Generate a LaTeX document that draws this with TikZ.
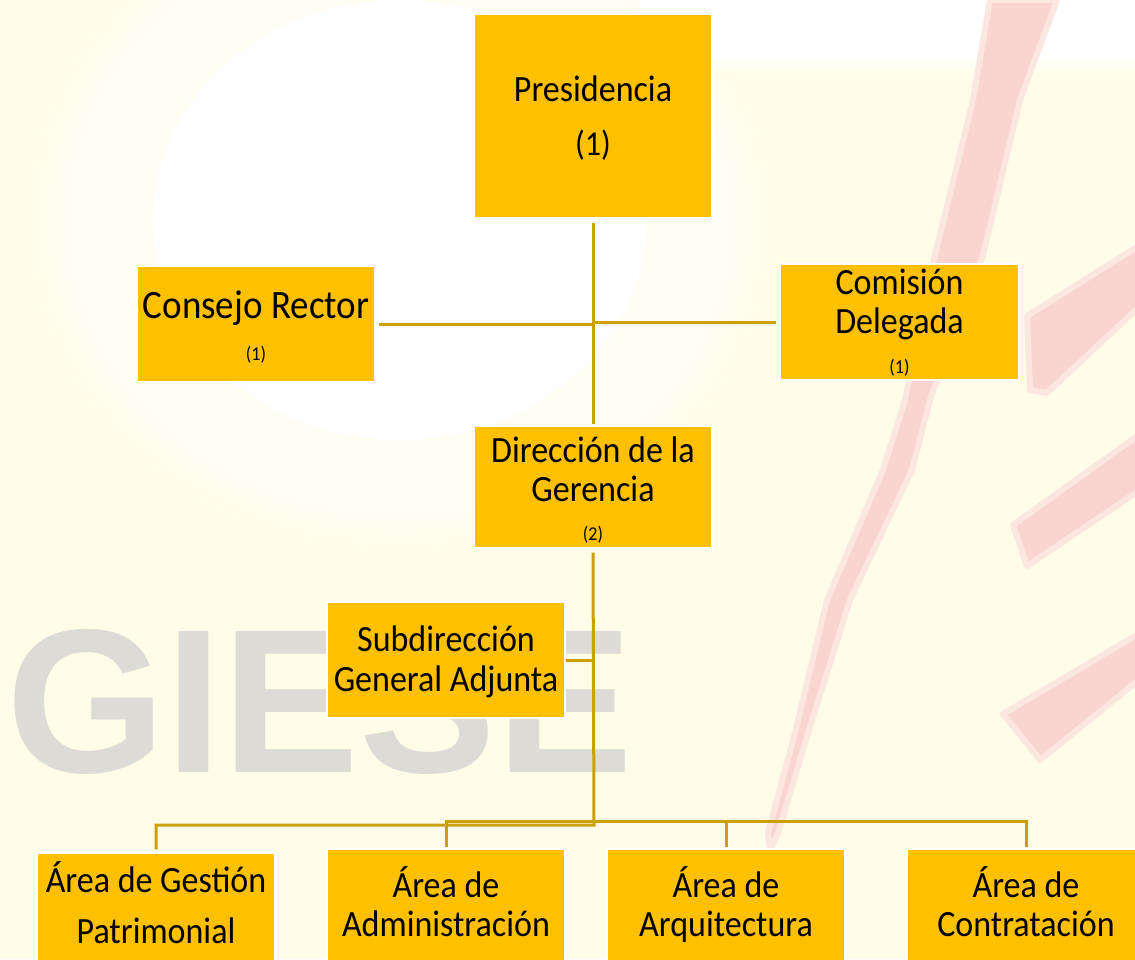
\documentclass[tikz,border=0pt]{standalone}
\usepackage{fontspec}
\setmainfont{Carlito}
\newfontfamily\wmfont{Liberation Sans}
\definecolor{boxc}{RGB}{255,192,0}
\definecolor{linec}{RGB}{204,160,0}
\definecolor{bgy}{RGB}{255,253,232}
\definecolor{wmg}{RGB}{220,219,213}
\definecolor{pinkc}{RGB}{249,212,209}
\definecolor{pinkl}{RGB}{252,230,224}
\newcommand{\vs}[1]{\scalebox{1}[1.09]{#1}}
\tikzset{
  box/.style={draw=white, line width=1.2pt, fill=boxc, inner sep=0, minimum width=238pt},
  conn/.style={draw=linec, line width=3pt},
  big/.style={font=\fontsize{34}{40}\selectfont, anchor=base, inner sep=0},
  bigger/.style={font=\fontsize{37}{42}\selectfont, anchor=base, inner sep=0},
  small/.style={font=\fontsize{18}{22}\selectfont, anchor=base, inner sep=0},
  stroke/.style={fill=pinkc, draw=pinkl, line width=6pt, line join=round}
}
\begin{document}
\begin{tikzpicture}[x=1pt,y=-1pt]
\useasboundingbox (0,0) rectangle (1135,959);
\clip (0,0) rectangle (1135,959);
% background watermark
\fill[bgy] (0,0) rectangle (1135,959);
\foreach \k in {0,...,29} {
  \fill[white, opacity=0.09] (400,220) ellipse ({370*(1-0.011*\k)} and {330*(1-0.011*\k)});
}
\fill[white] (400,220) ellipse (247 and 220);
\fill[white] (640,0) rectangle (1135,55);
\shade[top color=white, bottom color=bgy] (640,55) rectangle (1135,75);
\filldraw[stroke] (990,0) -- (973,100) -- (935,255) -- (905,400) -- (883,470) -- (827,600) -- (795,733) -- (768,833) -- (770,850)
  -- (778,833) -- (808,733) -- (850,600) -- (912,470) -- (930,400) -- (983,255) -- (1020,100) -- (1057,0) -- cycle;
\filldraw[stroke] (1027,316) -- (1140,245) -- (1140,306) -- (1047,393) -- (1030,390) -- cycle;
\filldraw[stroke] (1013,525) -- (1140,434) -- (1140,490) -- (1027,566) -- cycle;
\filldraw[stroke] (1003,714) -- (1140,633) -- (1140,679) -- (1040,760) -- cycle;
\node[anchor=base west, inner sep=0, text=wmg, font=\wmfont\bfseries\fontsize{205}{205}\selectfont] (logo) at (6,772) {GIESE};

% coordinates of junctions
\coordinate (jL) at (594,825);
\coordinate (jR) at (446,821);

% boxes
\node[box, minimum height=204pt] (pres) at (593,116) {};
\node[box, minimum height=116pt] (cons) at (256,324) {};
\node[box, minimum height=116pt] (com) at (899.5,322) {};
\node[box, minimum height=122pt] (dir) at (593,487) {};
\node[box, minimum height=116pt] (sub) at (446,660) {};
\node[box, minimum height=122pt] (gest) at (156,914) {};
\node[box, minimum height=122pt] (adm) at (446,910) {};
\node[box, minimum height=122pt] (arq) at (726,910) {};
\node[box, minimum height=122pt] (con) at (1026,910) {};

% connectors
\draw[conn] ([yshift=-4pt]pres.south) -- ([yshift=1pt]dir.north);
\draw[conn] ([xshift=3pt]cons.east) -- (cons.east -| pres.south);
\draw[conn] (com.west -| pres.south) -- ([xshift=-4pt]com.west);
\draw[conn] ([yshift=-4pt]dir.south) -- (jL) -| ([yshift=3pt]gest.north);
\draw[conn] (sub.east) -- (sub.east -| dir.south);
\draw[conn] ([yshift=1pt]adm.north) -- (jR) -| ([yshift=1pt]con.north);
\draw[conn] ([yshift=1pt]arq.north) -- (arq.north |- jR);

% texts
\node[big] (t1) at (593,101) {\vs{Presidencia}};
\node[font=\fontsize{32}{36}\selectfont, anchor=base, inner sep=0] (t1b) at (593,155) {\vs{(1)}};
\node[bigger] (t2) at (256,318) {\vs{Consejo Rector}};
\node[small] (t2b) at (256,360) {\vs{(1)}};
\node[big] (t3) at (899.5,294) {\vs{Comisión}};
\node[big] (t3a) at (899.5,333) {\vs{Delegada}};
\node[small] (t3b) at (899.5,373) {\vs{(1)}};
\node[big] (t4) at (593,462) {\vs{Dirección de la}};
\node[big] (t4a) at (593,501) {\vs{Gerencia}};
\node[small] (t4b) at (593,540) {\vs{(2)}};
\node[big] (t5) at (446,651) {\vs{Subdirección}};
\node[big] (t5a) at (446,691) {\vs{General Adjunta}};
\node[big] (t6) at (156,892) {\vs{Área de Gestión}};
\node[big] (t6a) at (156,943) {\vs{Patrimonial}};
\node[big] (t7) at (446,897) {\vs{Área de}};
\node[big] (t7a) at (446,936) {\vs{Administración}};
\node[big] (t8) at (726,897) {\vs{Área de}};
\node[big] (t8a) at (726,936) {\vs{Arquitectura}};
\node[big] (t9) at (1026,897) {\vs{Área de}};
\node[big] (t9a) at (1026,936) {\vs{Contratación}};
\end{tikzpicture}
\end{document}
